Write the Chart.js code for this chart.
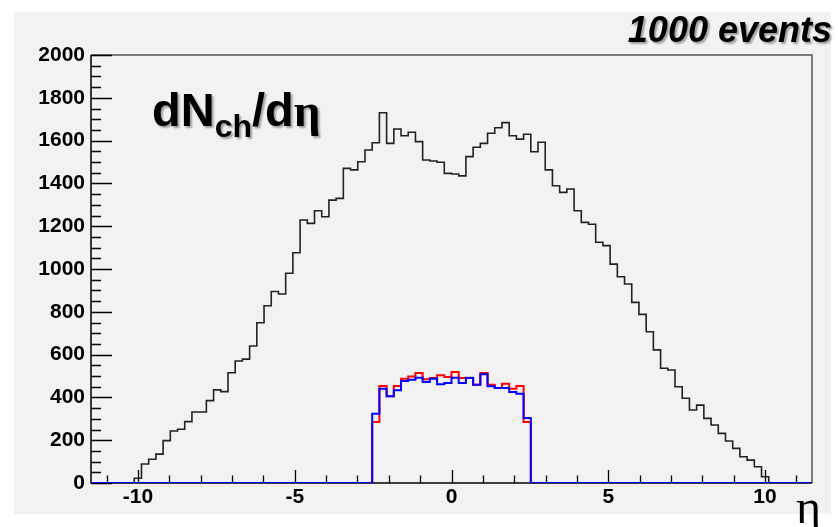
<!DOCTYPE html>
<html>
<head>
<meta charset="utf-8">
<script src="https://cdn.jsdelivr.net/npm/chart.js@4.4.0/dist/chart.umd.min.js"></script>
<style>
  html, body { margin: 0; padding: 0; background: #fff; }
</style>
</head>
<body>
<canvas id="canvas" width="838" height="527"></canvas>
<script>
// binning in eta
var etaMin = -11.5;
var etaMax = 11.5;
var nBins = 100;

// dNch/deta, all bins (1000 events)
var allCounts = [
  0, 0, 0, 0, 0, 0, 22, 89, 111, 135,
  198, 243, 251, 287, 332, 332, 385, 435, 427, 515,
  570, 579, 640, 749, 828, 895, 883, 980, 1076, 1229,
  1213, 1272, 1244, 1322, 1330, 1470, 1463, 1501, 1556, 1590,
  1730, 1587, 1654, 1623, 1639, 1595, 1509, 1505, 1499, 1447,
  1444, 1435, 1525, 1569, 1587, 1634, 1660, 1684, 1623, 1607,
  1630, 1548, 1592, 1463, 1389, 1358, 1374, 1272, 1218, 1209,
  1125, 1109, 1023, 964, 930, 844, 788, 707, 622, 536,
  528, 450, 396, 341, 364, 302, 271, 232, 196, 162,
  123, 107, 76, 29, 0, 0, 0, 0, 0, 0
];

// central selections, starting at bin 39
var selFirstBin = 39;
var redCounts = [285, 453, 405, 453, 487, 498, 514, 485, 491, 503, 495,
                 519, 491, 492, 459, 514, 459, 444, 464, 441, 453, 285];
var blueCounts = [324, 441, 405, 433, 477, 483, 492, 472, 487, 461, 467,
                  492, 467, 491, 459, 508, 452, 444, 444, 425, 417, 304];

var xTickLabels = [-10, -5, 0, 5, 10];
var yTickLabels = [0, 200, 400, 600, 800, 1000, 1200, 1400, 1600, 1800, 2000];

function histPoints(counts, first) {
  var w = (etaMax - etaMin) / nBins;
  var pts = [];
  for (var i = 0; i < nBins; i++) {
    var k = i - first;
    var v = (k >= 0 && k < counts.length) ? counts[k] : 0;
    pts.push({x: etaMin + i * w, y: v});
  }
  pts.push({x: etaMax, y: 0});
  return pts;
}

var tickFont = {family: '"Liberation Sans", Arial, sans-serif', size: 21, weight: 'bold'};

var padPlugin = {
  id: 'pad',
  beforeDraw: function(chart) {
    var ctx = chart.ctx;
    ctx.save();
    ctx.fillStyle = '#ffffff';
    ctx.fillRect(0, 0, chart.width, chart.height);
    ctx.fillStyle = '#f2f2f2';
    ctx.fillRect(14, 12, 817, 502);
    ctx.restore();
  },
  beforeDatasetsDraw: function(chart) {
    var a = chart.chartArea, ctx = chart.ctx;
    var xs = chart.scales.x, ys = chart.scales.y;
    ctx.save();
    ctx.lineWidth = 1.5;
    ctx.strokeStyle = '#555';
    ctx.beginPath();
    ctx.moveTo(a.left, a.top); ctx.lineTo(a.right, a.top); ctx.lineTo(a.right, a.bottom);
    ctx.stroke();
    ctx.strokeStyle = '#000';
    ctx.beginPath();
    ctx.moveTo(a.left, a.top); ctx.lineTo(a.left, a.bottom); ctx.lineTo(a.right, a.bottom);
    ctx.stroke();
    // ticks point inwards, like ROOT
    ctx.lineWidth = 1.3;
    ctx.beginPath();
    for (var v = 0; v <= 2000; v += 50) {
      var y = Math.round(ys.getPixelForValue(v)) + 0.5;
      var len = (v % 200 === 0) ? 21 : 10;
      ctx.moveTo(a.left, y); ctx.lineTo(a.left + len, y);
    }
    for (var e = -11; e <= 11; e++) {
      var x = Math.round(xs.getPixelForValue(e)) + 0.5;
      var l = (e % 5 === 0) ? 13 : 7.5;
      ctx.moveTo(x, a.bottom); ctx.lineTo(x, a.bottom - l);
    }
    ctx.stroke();
    ctx.restore();
  },
  afterDraw: function(chart) {
    var ctx = chart.ctx;
    ctx.save();
    ctx.fillStyle = '#000';
    ctx.shadowColor = 'rgba(0,0,0,0.35)';
    ctx.shadowOffsetX = 2;
    ctx.shadowOffsetY = 2;
    ctx.shadowBlur = 2;
    ctx.textBaseline = 'alphabetic';
    // title dNch/deta
    var big = 'bold 47px "Liberation Sans", Arial, sans-serif';
    var sub = 'bold 32px "Liberation Sans", Arial, sans-serif';
    var x0 = 152;
    ctx.font = big;
    ctx.fillText('dN', x0, 126);
    x0 += ctx.measureText('dN').width;
    ctx.font = sub;
    ctx.fillText('ch', x0, 137);
    x0 += ctx.measureText('ch').width;
    ctx.font = big;
    ctx.fillText('/d', x0, 126);
    x0 += ctx.measureText('/d').width;
    ctx.font = 'bold 47px "Liberation Serif", "DejaVu Serif", serif';
    ctx.fillText('\u03B7', x0, 126);
    // event count
    ctx.font = 'italic bold 36px "Liberation Sans", Arial, sans-serif';
    ctx.textAlign = 'right';
    ctx.fillText('1000 events', 832, 42);
    // x axis title
    ctx.shadowColor = 'rgba(0,0,0,0)';
    ctx.textAlign = 'left';
    ctx.font = '48px "Liberation Serif", "DejaVu Serif", serif';
    ctx.fillText('\u03B7', 796, 523);
    ctx.restore();
  }
};

var ctx = document.getElementById('canvas').getContext('2d');
var chart = new Chart(ctx, {
  type: 'line',
  data: {
    datasets: [{
      label: 'blue',
      data: histPoints(blueCounts, selFirstBin),
      borderColor: '#0000ff',
      borderWidth: 2,
      stepped: 'before',
      pointRadius: 0,
      fill: false
    }, {
      label: 'red',
      data: histPoints(redCounts, selFirstBin),
      borderColor: '#ff0000',
      borderWidth: 2,
      stepped: 'before',
      pointRadius: 0,
      fill: false
    }, {
      label: 'all',
      data: histPoints(allCounts, 0),
      borderColor: '#222222',
      borderWidth: 1.6,
      stepped: 'before',
      pointRadius: 0,
      fill: false
    }]
  },
  options: {
    responsive: false,
    devicePixelRatio: 1,
    animation: false,
    layout: {padding: {top: 55, right: 26, left: 0, bottom: 0}},
    plugins: {legend: {display: false}, tooltip: {enabled: false}},
    scales: {
      x: {
        type: 'linear',
        min: etaMin,
        max: etaMax,
        grid: {display: false, drawTicks: false},
        border: {display: false},
        ticks: {
          font: tickFont, color: '#000', padding: 2, maxRotation: 0, autoSkip: false,
          callback: function(v) { return String(v); }
        },
        afterBuildTicks: function(s) { s.ticks = xTickLabels.map(function(v) { return {value: v}; }); },
        afterFit: function(s) { s.height = 44; }
      },
      y: {
        type: 'linear',
        min: 0,
        max: 2000,
        grid: {display: false, drawTicks: false},
        border: {display: false},
        ticks: {
          font: tickFont, color: '#000', padding: 6, autoSkip: false,
          callback: function(v) { return String(v); }
        },
        afterBuildTicks: function(s) { s.ticks = yTickLabels.map(function(v) { return {value: v}; }); },
        afterFit: function(s) { s.width = 91; }
      }
    }
  },
  plugins: [padPlugin]
});
</script>
</body>
</html>
